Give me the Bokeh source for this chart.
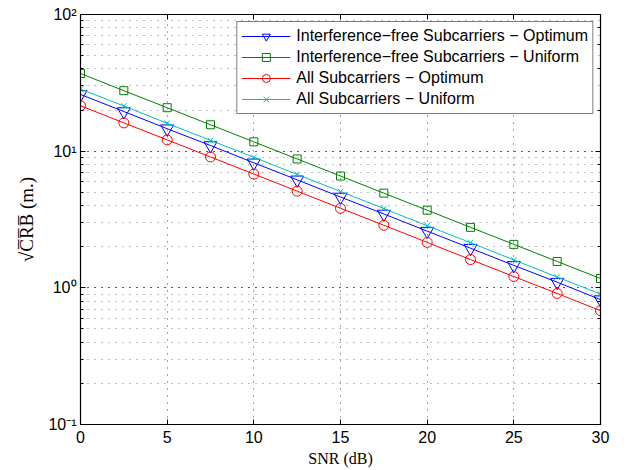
from bokeh.plotting import figure
from bokeh.models import LinearAxis, LogAxis, CustomJSTickFormatter, FixedTicker, Legend
from bokeh.embed import file_html
from bokeh.resources import INLINE

snr_db = [0, 2.5, 5, 7.5, 10, 12.5, 15, 17.5, 20, 22.5, 25, 27.5, 30]
if_optimum = [26.0, 19.5, 14.6, 11.0, 8.22, 6.17, 4.62, 3.47, 2.60, 1.95, 1.46, 1.10, 0.82]
if_uniform = [37.0, 27.7, 20.8, 15.6, 11.7, 8.77, 6.58, 4.93, 3.70, 2.77, 2.08, 1.56, 1.17]
all_optimum = [21.5, 16.1, 12.1, 9.07, 6.80, 5.10, 3.82, 2.87, 2.15, 1.61, 1.21, 0.91, 0.68]
all_uniform = [28.5, 21.4, 16.0, 12.0, 9.01, 6.76, 5.07, 3.80, 2.85, 2.14, 1.60, 1.20, 0.90]
x_ticks = [0, 5, 10, 15, 20, 25, 30]

p = figure(width=629, height=470, output_backend="svg", toolbar_location=None,
           y_axis_type="log", x_range=(0, 30), y_range=(0.1, 100),
           min_border_left=80, min_border_right=29, min_border_top=14, min_border_bottom=46)
p.background_fill_color = "white"
p.border_fill_color = "white"
p.outline_line_color = "black"
p.outline_line_width = 1.2

series = [
    ("Interference\u2212free Subcarriers \u2212 Optimum", if_optimum, "#0000ff", "inverted_triangle", 13),
    ("Interference\u2212free Subcarriers \u2212 Uniform", if_uniform, "#008000", "square", 8),
    ("All Subcarriers \u2212 Optimum", all_optimum, "#ff0000", "circle", 10),
    ("All Subcarriers \u2212 Uniform", all_uniform, "#00bfbf", "x", 8),
]
items = []
for label, ys, color, marker, size in series:
    r1 = p.line(snr_db, ys, line_color=color, line_width=1)
    r2 = p.scatter(snr_db, ys, marker=marker, size=size, line_color=color,
                   fill_color=None, line_width=1)
    items.append((label, [r1, r2]))

legend = Legend(items=items, location="top_right")
legend.label_text_font = "Liberation Sans"
legend.label_text_font_size = "16px"
legend.label_text_color = "black"
legend.border_line_color = "black"
legend.border_line_width = 1.2
legend.background_fill_color = "white"
legend.background_fill_alpha = 1
legend.padding = 4
legend.spacing = 1
legend.margin = 7
legend.glyph_width = 49
legend.label_standoff = 6
p.add_layout(legend, "center")

sup_js = """
const e = Math.round(Math.log10(tick));
const sup = {'-':'\u207b','0':'\u2070','1':'\u00b9','2':'\u00b2','3':'\u00b3','4':'\u2074','5':'\u2075','6':'\u2076','7':'\u2077','8':'\u2078','9':'\u2079'};
return '10' + String(e).split('').map(c => sup[c]).join('');
"""

xa = p.xaxis[0]
ya = p.yaxis[0]
xa.ticker = FixedTicker(ticks=x_ticks)
for ax in (xa, ya):
    ax.major_tick_in = 5
    ax.major_tick_out = 0
    ax.minor_tick_in = 3
    ax.minor_tick_out = 0
    ax.axis_line_color = "black"
    ax.major_tick_line_color = "black"
    ax.minor_tick_line_color = "black"
    ax.major_label_text_font = "Liberation Sans"
    ax.major_label_text_font_size = "16px"
    ax.major_label_text_color = "black"
    ax.axis_label_text_font = "Liberation Serif"
    ax.axis_label_text_font_size = "16px"
    ax.axis_label_text_font_style = "normal"
    ax.axis_label_text_color = "black"
xa.minor_tick_in = 0
xa.major_label_standoff = 6
ya.major_label_standoff = 4
ya.formatter = CustomJSTickFormatter(code=sup_js)
xa.axis_label = "SNR (dB)"
ya.axis_label = "\u221aC\u0305R\u0305B\u0305 (m.)"
ya.axis_label_text_font_size = "19px"
ya.axis_label_standoff = 8
xa.axis_label_standoff = 4

blank = "return '';"
top = LinearAxis(ticker=FixedTicker(ticks=x_ticks), formatter=CustomJSTickFormatter(code=blank),
                 major_label_standoff=0,
                 major_tick_in=5, major_tick_out=0, minor_tick_in=0, minor_tick_out=0,
                 axis_line_color="black", major_tick_line_color="black")
p.add_layout(top, "above")
right = LogAxis(formatter=CustomJSTickFormatter(code=blank), major_label_standoff=0,
                major_tick_in=5, major_tick_out=0,
                minor_tick_in=3, minor_tick_out=0, axis_line_color="black",
                major_tick_line_color="black", minor_tick_line_color="black")
p.add_layout(right, "right")

p.xgrid.grid_line_color = "black"
p.xgrid.grid_line_alpha = 0.7
p.xgrid.grid_line_dash = "1 6"
p.ygrid.grid_line_color = "black"
p.ygrid.grid_line_alpha = 0.7
p.ygrid.grid_line_dash = "1 6"
p.ygrid.minor_grid_line_color = "black"
p.ygrid.minor_grid_line_alpha = 0.5
p.ygrid.minor_grid_line_dash = "1 6"

open("out.html", "w").write(file_html(p, INLINE))
